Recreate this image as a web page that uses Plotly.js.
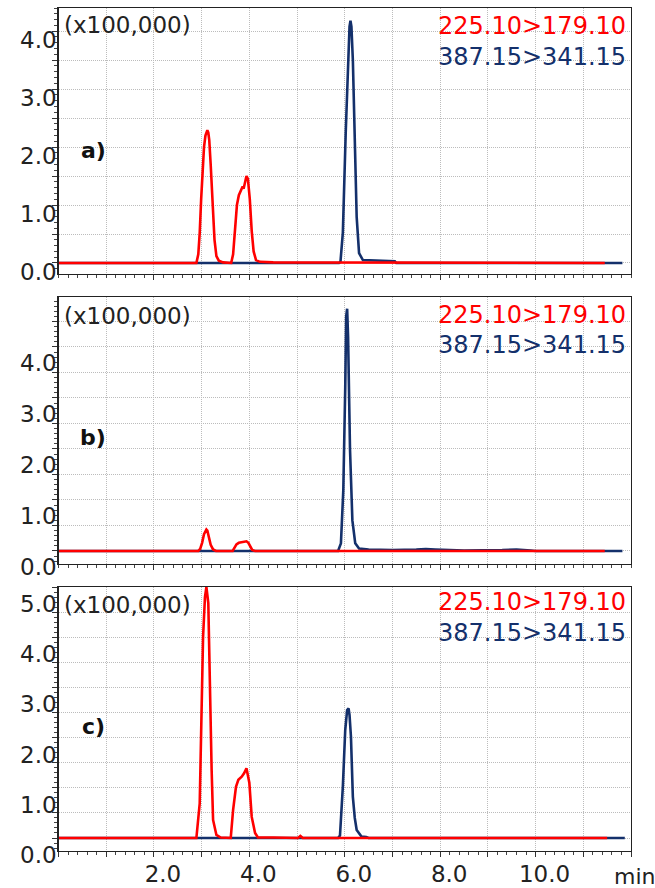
<!DOCTYPE html>
<html>
<head>
<meta charset="utf-8">
<script src="https://cdn.plot.ly/plotly-3.0.1.min.js"></script>
<style>
  html, body { margin: 0; padding: 0; background: #ffffff; }
  #chart { width: 655px; height: 888px; }
</style>
</head>
<body>
<div id="chart"></div>
<script>
// MRM chromatograms, intensity in units of 100,000 counts, time in minutes

// a) 225.10>179.10
const timeRedA = [0, 2.89, 2.93, 2.96, 2.99, 3.02, 3.05, 3.08, 3.10, 3.12, 3.14, 3.16, 3.19, 3.21, 3.24, 3.27, 3.31, 3.36, 3.45, 3.62, 3.66, 3.70, 3.74, 3.78, 3.83, 3.86, 3.88, 3.91, 3.94, 3.97, 4.01, 4.05, 4.09, 4.14, 4.22, 4.50, 11.45];
const sigRedA  = [0, 0, 0.15, 0.52, 1.10, 1.64, 2.00, 2.20, 2.27, 2.29, 2.25, 2.12, 1.70, 1.31, 0.80, 0.40, 0.12, 0.04, 0.01, 0, 0.15, 0.60, 1.00, 1.17, 1.27, 1.32, 1.28, 1.38, 1.50, 1.45, 1.10, 0.55, 0.20, 0.05, 0.02, 0.01, 0];
// a) 387.15>341.15
const timeBlueA = [0, 5.88, 5.91, 5.96, 6.02, 6.07, 6.10, 6.12, 6.14, 6.17, 6.20, 6.25, 6.30, 6.38, 7.05, 7.08, 11.82];
const sigBlueA  = [0, 0, 0.02, 0.52, 2.24, 3.67, 4.08, 4.18, 4.08, 3.50, 2.24, 0.79, 0.17, 0.05, 0.03, 0, 0];

// b) 225.10>179.10
const timeRedB = [0, 2.93, 2.97, 3.01, 3.05, 3.08, 3.10, 3.12, 3.15, 3.19, 3.24, 3.30, 3.65, 3.69, 3.73, 3.78, 3.84, 3.90, 3.94, 3.98, 4.02, 4.06, 4.12, 11.45];
const sigRedB  = [0, 0, 0.04, 0.16, 0.33, 0.41, 0.42, 0.40, 0.30, 0.12, 0.03, 0, 0, 0.06, 0.13, 0.16, 0.17, 0.19, 0.19, 0.16, 0.09, 0.02, 0, 0];
// b) 387.15>341.15
const timeBlueB = [0, 5.86, 5.92, 5.97, 6.01, 6.03, 6.05, 6.07, 6.11, 6.16, 6.22, 6.30, 6.50, 7.00, 7.50, 7.70, 7.90, 8.50, 9.30, 9.60, 9.90, 10.00, 11.82];
const sigBlueB  = [0, 0, 0.15, 1.20, 3.20, 4.60, 4.75, 4.20, 2.00, 0.60, 0.15, 0.05, 0.03, 0.02, 0.03, 0.04, 0.03, 0.01, 0.02, 0.03, 0.01, 0, 0];

// c) 225.10>179.10
const timeRedC = [0, 2.89, 2.96, 3.00, 3.03, 3.07, 3.10, 3.14, 3.17, 3.21, 3.24, 3.31, 3.40, 3.61, 3.66, 3.72, 3.77, 3.84, 3.89, 3.94, 4.00, 4.05, 4.12, 4.18, 4.50, 5.02, 5.07, 5.12, 11.50];
const sigRedC  = [0, 0, 0.69, 2.35, 4.00, 4.80, 5.00, 4.68, 3.00, 1.35, 0.36, 0.06, 0.01, 0, 0.56, 1.02, 1.16, 1.22, 1.29, 1.39, 1.10, 0.42, 0.10, 0.01, 0.01, 0, 0.04, 0, 0];
// c) 387.15>341.15
const timeBlueC = [0, 5.86, 5.90, 5.96, 6.01, 6.05, 6.08, 6.10, 6.13, 6.17, 6.21, 6.25, 6.35, 6.45, 6.50, 11.87];
const sigBlueC  = [0, 0, 0.05, 1.02, 2.15, 2.55, 2.58, 2.45, 2.02, 0.82, 0.40, 0.16, 0.03, 0.02, 0, 0];

const panelLetters = ['a)', 'b)', 'c)'];
const channelRed = '225.10>179.10';
const channelBlue = '387.15>341.15';
const scaleNote = '(x100,000)';
const yMaxLabel = [4, 4, 5];     // highest labelled intensity per panel
const yGridTop = [4.0, 4.5, 5.0]; // highest grid line per panel
const yRanges = [[-0.19, 4.40], [-0.255, 4.98], [-0.259, 5.0]];
const timeRange = [0, 12];

const RED = '#ff0000';
const BLUE = '#14306b';
const FONT = 'DejaVu Sans, sans-serif';
const GRID = '#bcbcbc';

// pixel boxes of the three panels (top, bottom) and the shared left/right edges
const W = 655, H = 888;
const L = 58.5, R = 631;
const boxes = [[8, 274], [297, 564], [587, 851]];
const labelShift = [9, 16, 17];

const traces = [];
const series = [
  [timeBlueA, sigBlueA, timeRedA, sigRedA],
  [timeBlueB, sigBlueB, timeRedB, sigRedB],
  [timeBlueC, sigBlueC, timeRedC, sigRedC]
];
series.forEach((s, i) => {
  const xa = i === 0 ? 'x' : 'x' + (i + 1);
  const ya = i === 0 ? 'y' : 'y' + (i + 1);
  traces.push({ x: s[0], y: s[1], xaxis: xa, yaxis: ya, type: 'scatter', mode: 'lines',
    line: { color: BLUE, width: 2.6 }, hoverinfo: 'skip', showlegend: false });
  traces.push({ x: s[2], y: s[3], xaxis: xa, yaxis: ya, type: 'scatter', mode: 'lines',
    line: { color: RED, width: 2.6 }, hoverinfo: 'skip', showlegend: false });
});

const xTickVals = [];
for (let v = timeRange[0]; v <= timeRange[1]; v++) xTickVals.push(v);
const xTickText = xTickVals.map(v => (v % 2 === 0 && v > 0 && v < 12) ? v.toFixed(1) : '');

const layout = {
  width: W, height: H,
  margin: { l: 0, r: 0, t: 0, b: 0 },
  paper_bgcolor: '#ffffff', plot_bgcolor: 'rgba(0,0,0,0)',
  font: { family: FONT, color: '#222222', size: 23 },
  annotations: []
};

boxes.forEach((b, i) => {
  const n = i === 0 ? '' : String(i + 1);
  const yDom = [1 - b[1] / H, 1 - b[0] / H];
  const yVals = [];
  for (let v = 0; v <= yGridTop[i] + 1e-9; v += 0.5) yVals.push(Math.round(v * 10) / 10);
  const yText = yVals.map(v => (Math.abs(v - Math.round(v)) < 1e-9 && v <= yMaxLabel[i]) ? v.toFixed(1) : '');

  layout['xaxis' + n] = {
    domain: [L / W, R / W], range: timeRange, anchor: 'y' + n,
    tickmode: 'array', tickvals: xTickVals, ticktext: xTickText,
    showticklabels: i === 2,
    ticks: 'outside', ticklen: 5, tickwidth: 1, tickcolor: '#333333',
    ticklabelshift: 9, ticklabelstandoff: -3,
    tickfont: { family: FONT, size: 23, color: '#222222' },
    showgrid: true, gridcolor: GRID, griddash: '1px,1px', gridwidth: 1,
    minor: { tickmode: 'linear', tick0: 0, dtick: 0.2, ticks: 'outside', ticklen: 3, tickcolor: '#444444', showgrid: false },
    showline: true, mirror: true, linecolor: '#222222', linewidth: 1.2,
    zeroline: false, fixedrange: true
  };
  layout['yaxis' + n] = {
    domain: yDom, range: yRanges[i], anchor: 'x' + n,
    tickmode: 'array', tickvals: yVals, ticktext: yText,
    ticks: 'outside', ticklen: 5, tickwidth: 1, tickcolor: '#333333',
    ticklabelshift: labelShift[i], ticklabelstandoff: -9,
    tickfont: { family: FONT, size: 23, color: '#222222' },
    showgrid: true, gridcolor: GRID, griddash: '1px,1px', gridwidth: 1,
    minor: { tickmode: 'linear', tick0: 0, dtick: 0.1, ticks: 'outside', ticklen: 3, tickcolor: '#444444', showgrid: false },
    showline: true, mirror: true, linecolor: '#222222', linewidth: 1.2,
    zeroline: false, fixedrange: true
  };

  const xd = px => (px - L) / (R - L);
  const yd = py => (b[1] - py) / (b[1] - b[0]);
  const xref = 'x' + n + ' domain', yref = 'y' + n + ' domain';
  const off = [[25, 26, 57, 150], [316, 315, 345, 437], [605, 602, 633, 726]][i];
  layout.annotations.push(
    { xref, yref, x: xd(62), y: yd(off[0]), xanchor: 'left', yanchor: 'middle', showarrow: false,
      text: scaleNote, font: { family: FONT, size: 23, color: '#222222' } },
    { xref, yref, x: xd(628), y: yd(off[1]), xanchor: 'right', yanchor: 'middle', showarrow: false,
      text: channelRed, font: { family: FONT, size: 24, color: RED } },
    { xref, yref, x: xd(628), y: yd(off[2]), xanchor: 'right', yanchor: 'middle', showarrow: false,
      text: channelBlue, font: { family: FONT, size: 24, color: BLUE } },
    { xref, yref, x: xd(93), y: yd(off[3]), xanchor: 'center', yanchor: 'middle', showarrow: false,
      text: '<b>' + panelLetters[i] + '</b>', font: { family: FONT, size: 22, color: '#111111' } }
  );
});

layout.annotations.push({
  xref: 'paper', yref: 'paper', x: 612 / W, y: 1 - 876 / H, xanchor: 'left', yanchor: 'middle',
  showarrow: false, text: 'min', font: { family: FONT, size: 22, color: '#222222' }
});

Plotly.newPlot('chart', traces, layout, { staticPlot: true, displayModeBar: false });
</script>
</body>
</html>
